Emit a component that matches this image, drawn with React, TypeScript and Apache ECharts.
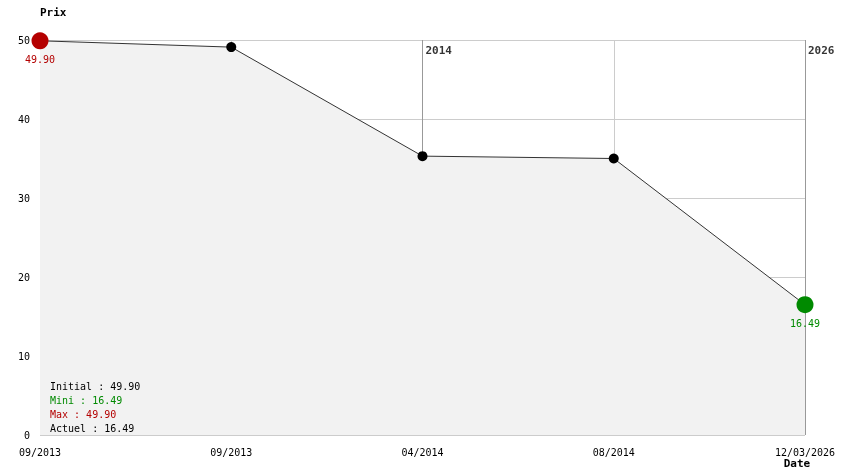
import React, { useEffect, useRef } from "react";
import * as echarts from "echarts";

const categories = ["09/2013", "09/2013", "04/2014", "08/2014", "12/03/2026"];
const prices = [49.9, 49.1, 35.3, 35.0, 16.49];
const yearMarkers = [
  { index: 2, label: "2014" },
  { index: 4, label: "2026" },
];
const stats = [
  { label: "Initial", value: "49.90", style: "k" },
  { label: "Mini", value: "16.49", style: "g" },
  { label: "Max", value: "49.90", style: "r" },
  { label: "Actuel", value: "16.49", style: "k" },
];
const yTicks = { min: 0, max: 50, interval: 10 };

const RED = "#b40000";
const GREEN = "#008a00";
const FONT = "'DejaVu Sans Mono', 'Liberation Mono', monospace";

export default function App() {
  const ref = useRef<HTMLDivElement>(null);
  useEffect(() => {
    if (!ref.current) return;
    const chart = echarts.init(ref.current, undefined, { renderer: "svg" });
    const last = prices.length - 1;
    const data = prices.map((v, i) => {
      if (i === 0)
        return {
          value: v,
          symbolSize: 17,
          itemStyle: { color: RED },
          label: { show: true, position: "bottom", distance: 5, color: RED, formatter: (p: any) => p.value.toFixed(2) },
        };
      if (i === last)
        return {
          value: v,
          symbolSize: 17,
          itemStyle: { color: GREEN },
          label: { show: true, position: "bottom", distance: 5, color: GREEN, formatter: (p: any) => p.value.toFixed(2) },
        };
      return { value: v };
    });
    const splitColors = categories.map((_, i) =>
      yearMarkers.some((m) => m.index === i) ? "#999999" : "#cccccc"
    );
    chart.setOption({
      animation: false,
      textStyle: { fontFamily: FONT },
      grid: { left: 40, right: 39, top: 40, bottom: 39 },
      title: {
        left: 50,
        top: 379,
        padding: 0,
        text: stats
          .map((s) => `{${s.style}|${s.label} : ${s.value}}`)
          .join("\n"),
        textStyle: {
          fontFamily: FONT,
          fontSize: 10,
          fontWeight: "normal",
          lineHeight: 14,
          rich: {
            k: { color: "#000", fontFamily: FONT, fontSize: 10, lineHeight: 14 },
            g: { color: GREEN, fontFamily: FONT, fontSize: 10, lineHeight: 14 },
            r: { color: RED, fontFamily: FONT, fontSize: 10, lineHeight: 14 },
          },
        },
      },
      xAxis: {
        type: "category",
        data: categories,
        boundaryGap: false,
        axisLine: { show: false },
        axisTick: { show: false },
        axisLabel: { color: "#000", fontFamily: FONT, fontSize: 10, margin: 12, interval: 0 },
        splitLine: { show: true, lineStyle: { color: splitColors, width: 1 } },
        name: "Date",
        nameLocation: "end",
        nameGap: 0,
        nameTextStyle: {
          color: "#000",
          fontFamily: FONT,
          fontSize: 11,
          fontWeight: "bold",
          align: "center",
          verticalAlign: "top",
          padding: [23, 16, 0, 0],
        },
      },
      yAxis: {
        type: "value",
        min: yTicks.min,
        max: yTicks.max,
        interval: yTicks.interval,
        axisLine: { show: false },
        axisTick: { show: false },
        axisLabel: { color: "#000", fontFamily: FONT, fontSize: 10, margin: 10 },
        splitLine: { show: true, lineStyle: { color: "#cccccc", width: 1 } },
        name: "Prix",
        nameLocation: "end",
        nameGap: 22,
        nameTextStyle: { color: "#000", fontFamily: FONT, fontSize: 11, fontWeight: "bold", align: "left" },
      },
      series: [
        {
          type: "line",
          data,
          symbol: "circle",
          symbolSize: 10,
          showSymbol: true,
          itemStyle: { color: "#000" },
          lineStyle: { color: "#333", width: 1 },
          areaStyle: { color: "#f2f2f2", opacity: 1 },
          label: { fontFamily: FONT, fontSize: 10 },
          z: 3,
        },
        {
          type: "scatter",
          data: yearMarkers.map((m) => [m.index, yTicks.max]),
          symbolSize: 0,
          silent: true,
          label: {
            show: true,
            position: [3, 5],
            color: "#000",
            fontFamily: FONT,
            fontSize: 11,
            fontWeight: "bold",
            formatter: (p: any) => yearMarkers[p.dataIndex].label,
          },
          z: 4,
        },
      ],
    });
    return () => chart.dispose();
  }, []);
  return (
    <div
      ref={ref}
      style={{ position: "fixed", left: 0, top: 0, width: 844, height: 474 }}
    />
  );
}
